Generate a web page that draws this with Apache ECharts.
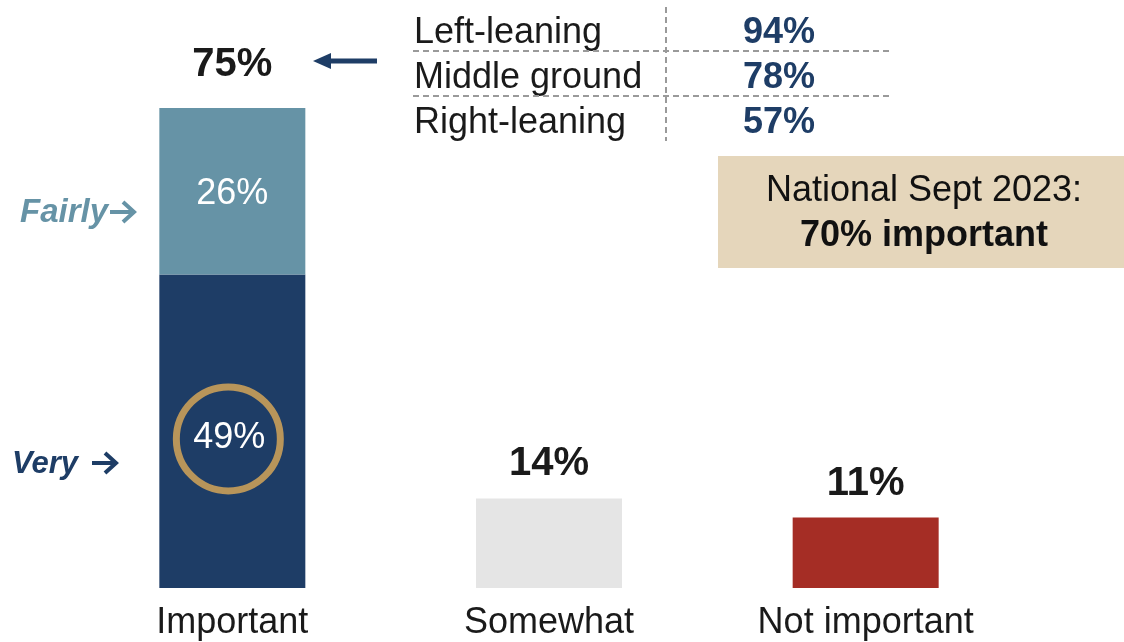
<!DOCTYPE html>
<html>
<head>
<meta charset="utf-8">
<script src="https://cdn.jsdelivr.net/npm/echarts@6/dist/echarts.min.js"></script>
<style>html,body{margin:0;padding:0;background:#fff}#c{width:1124px;height:642px}</style>
</head>
<body>
<div id="c"></div>
<script>
// ---- data ----
const categories = ['Important', 'Somewhat', 'Not important'];
const veryValues = [49, null, null];
const fairlyValues = [26, null, null];
const otherValues = [null, 14, 11];
const totals = [75, 14, 11];
const groupLabels = ['Left-leaning', 'Middle ground', 'Right-leaning'];
const groupValues = [94, 78, 57];
const nationalLine1 = 'National Sept 2023:';
const nationalLine2 = '70% important';

const FONT = "'Liberation Sans', Arial, sans-serif";
const DARK = '#1e3d66';
const LIGHT = '#6693a6';
const otherColors = ['#e5e5e5', '#a52d25'];

const chart = echarts.init(document.getElementById('c'), null, {renderer: 'canvas'});

const tableGraphics = [];
groupLabels.forEach((g, i) => {
  const y = 33 + i * 45;
  tableGraphics.push({type: 'text', x: 414, y: y, style: {text: g, font: '36px ' + FONT, fill: '#1a1a1a', textVerticalAlign: 'middle'}});
  tableGraphics.push({type: 'text', x: 779, y: y, style: {text: groupValues[i] + '%', font: 'bold 36px ' + FONT, fill: DARK, textAlign: 'center', textVerticalAlign: 'middle'}});
});
[51, 96].forEach(y => tableGraphics.push({type: 'line', shape: {x1: 413, y1: y, x2: 890, y2: y}, style: {stroke: '#9a9a9a', lineWidth: 2, lineDash: [6, 4]}}));
tableGraphics.push({type: 'line', shape: {x1: 666, y1: 7, x2: 666, y2: 141}, style: {stroke: '#9a9a9a', lineWidth: 2, lineDash: [6, 4]}});

const option = {
  animation: false,
  backgroundColor: '#ffffff',
  grid: {left: 74, right: 100, top: 76, bottom: 54},
  xAxis: {
    type: 'category', data: categories,
    axisLine: {show: false}, axisTick: {show: false},
    axisLabel: {fontSize: 36, color: '#1a1a1a', fontFamily: FONT, margin: 17, interval: 0}
  },
  yAxis: {type: 'value', min: 0, max: 80, show: false, splitLine: {show: false}},
  series: [
    {
      name: 'Very', type: 'bar', stack: 's', barWidth: 146, data: veryValues,
      itemStyle: {color: DARK},
      label: {show: true, position: 'inside', offset: [-3, 7], formatter: p => p.value + '%', fontSize: 36, color: '#fff', fontFamily: FONT}
    },
    {
      name: 'Fairly', type: 'bar', stack: 's', barWidth: 146, data: fairlyValues,
      itemStyle: {color: LIGHT},
      label: {show: true, position: 'inside', offset: [0, 3], formatter: p => p.value + '%', fontSize: 36, color: '#fff', fontFamily: FONT}
    },
    {
      name: 'Other', type: 'bar', stack: 's', barWidth: 146,
      data: otherValues.map((v, i) => ({value: v, itemStyle: {color: otherColors[i - 1] || '#ccc'}}))
    },
    {
      name: 'Total', type: 'scatter', symbolSize: 0, silent: true,
      itemStyle: {opacity: 1},
      data: totals.map((v, i) => ({value: v, label: {distance: i === 0 ? 23 : 14}})),
      label: {show: true, position: 'top', formatter: p => p.value + '%', fontSize: 40, fontWeight: 'bold', color: '#1a1a1a', fontFamily: FONT, opacity: 1}
    }
  ],
  graphic: []
};
chart.setOption(option);

const circ = chart.convertToPixel({xAxisIndex: 0, yAxisIndex: 0}, [0, 23.3]);
const graphics = tableGraphics.concat([
  // arrow
  {type: 'rect', shape: {x: 328, y: 58.5, width: 49, height: 5}, style: {fill: DARK}},
  {type: 'polygon', shape: {points: [[313, 61], [331, 53], [331, 69]]}, style: {fill: DARK}},
  // national box
  {type: 'rect', shape: {x: 718, y: 156, width: 420, height: 112}, style: {fill: '#e5d6bb'}},
  {type: 'text', x: 924, y: 191, style: {text: nationalLine1, font: '36px ' + FONT, fill: '#111', textAlign: 'center', textVerticalAlign: 'middle'}},
  {type: 'text', x: 924, y: 236, style: {text: nationalLine2, font: 'bold 36px ' + FONT, fill: '#111', textAlign: 'center', textVerticalAlign: 'middle'}},
  // side labels
  {type: 'text', x: 20, y: 213, style: {text: 'Fairly', font: 'italic bold 33px ' + FONT, fill: LIGHT, textVerticalAlign: 'middle'}},
  {type: 'polyline', shape: {points: [[110, 212], [133, 212]]}, style: {stroke: LIGHT, lineWidth: 4}},
  {type: 'polyline', shape: {points: [[123, 202], [134, 212], [123, 222]]}, style: {stroke: LIGHT, lineWidth: 4, fill: null}},
  {type: 'text', x: 12, y: 464, style: {text: 'Very', font: 'italic bold 31px ' + FONT, fill: DARK, textVerticalAlign: 'middle'}},
  {type: 'polyline', shape: {points: [[92, 463], [115, 463]]}, style: {stroke: DARK, lineWidth: 4}},
  {type: 'polyline', shape: {points: [[105, 453], [116, 463], [105, 473]]}, style: {stroke: DARK, lineWidth: 4, fill: null}},
  // circle
  {type: 'circle', z: 100, shape: {cx: circ[0] - 4, cy: circ[1], r: 52}, style: {fill: null, stroke: '#b8955a', lineWidth: 7}}
]);
chart.setOption({graphic: graphics});
</script>
</body>
</html>
